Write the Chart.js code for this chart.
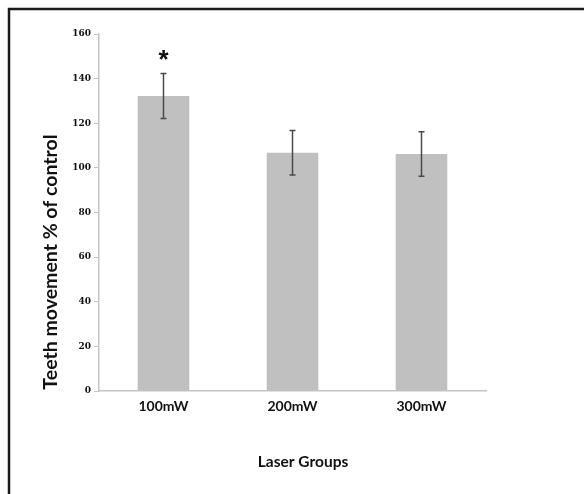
<!DOCTYPE html>
<html>
<head>
<meta charset="utf-8">
<script src="https://cdn.jsdelivr.net/npm/chart.js@4/dist/chart.umd.min.js"></script>
<style>
html,body{margin:0;padding:0;background:#fff;}
#wrap{width:584px;height:494px;position:relative;}
</style>
</head>
<body>
<div id="wrap"><canvas id="c" width="584" height="494"></canvas></div>
<script>
const categories = ['100mW', '200mW', '300mW'];
const meanValues = [132.2, 106.8, 106.2];
const errorValues = [10.1, 10.0, 10.0];
const significance = ['*', '', ''];
const yTitle = 'Teeth movement % of control';
const xTitle = 'Laser Groups';

const overlay = {
  id: 'overlay',
  beforeDraw(chart) {
    const ctx = chart.ctx;
    ctx.save();
    ctx.fillStyle = '#ffffff';
    ctx.fillRect(0, 0, chart.width, chart.height);
    ctx.strokeStyle = '#1a1a1a';
    ctx.lineWidth = 2.5;
    ctx.beginPath();
    ctx.moveTo(9, chart.height);
    ctx.lineTo(9, 9);
    ctx.lineTo(chart.width, 9);
    ctx.stroke();
    ctx.restore();
  },
  afterDatasetsDraw(chart) {
    const ctx = chart.ctx;
    const y = chart.scales.y;
    const meta = chart.getDatasetMeta(0);
    ctx.save();
    meta.data.forEach((bar, i) => {
      const x = bar.x;
      const hi = y.getPixelForValue(meanValues[i] + errorValues[i]);
      const lo = y.getPixelForValue(meanValues[i] - errorValues[i]);
      ctx.strokeStyle = '#4a4a4a';
      ctx.lineWidth = 1.5;
      ctx.beginPath();
      ctx.moveTo(x, hi); ctx.lineTo(x, lo);
      ctx.moveTo(x - 3, hi); ctx.lineTo(x + 3, hi);
      ctx.moveTo(x - 3, lo); ctx.lineTo(x + 3, lo);
      ctx.stroke();
      if (significance[i]) {
        ctx.fillStyle = '#111';
        ctx.font = 'bold 26px "Liberation Sans"';
        ctx.textAlign = 'center';
        ctx.textBaseline = 'middle';
        ctx.fillText(significance[i], x, hi - 13);
      }
    });
    // axis titles
    ctx.fillStyle = '#111';
    ctx.font = 'bold 19.5px Lato';
    ctx.textAlign = 'center';
    ctx.textBaseline = 'middle';
    ctx.save();
    ctx.translate(51, 262);
    ctx.rotate(-Math.PI / 2);
    ctx.fillText(yTitle, 0, 0);
    ctx.restore();
    ctx.font = 'bold 15.5px Lato';
    ctx.fillText(xTitle, 303, 462);
    ctx.restore();
  }
};

new Chart(document.getElementById('c'), {
  type: 'bar',
  data: {
    labels: categories,
    datasets: [{
      data: meanValues,
      backgroundColor: '#c0c0c0',
      borderWidth: 0,
      barPercentage: 0.4,
      categoryPercentage: 1.0
    }]
  },
  options: {
    responsive: false,
    animation: false,
    layout: { padding: { left: 0, right: 98, top: 34, bottom: 0 } },
    plugins: { legend: { display: false }, tooltip: { enabled: false } },
    scales: {
      x: {
        grid: { display: true, drawOnChartArea: false, drawTicks: false, color: 'rgba(0,0,0,0)' },
        border: { display: true, color: '#c4c4c4', width: 1.5 },
        ticks: { color: '#111', font: { family: 'Lato', weight: 'bold', size: 14 }, padding: 7 },
        afterFit(s) { s.height = 103; }
      },
      y: {
        min: 0, max: 160,
        ticks: { stepSize: 20, color: '#111', font: { family: '"DejaVu Serif"', weight: 'bold', size: 9 }, padding: 3 },
        grid: { drawOnChartArea: false, drawTicks: true, tickLength: 5, color: '#c4c4c4' },
        border: { display: true, color: '#c4c4c4', width: 1.5 },
        afterFit(s) { s.width = 99; }
      }
    }
  },
  plugins: [overlay]
});
</script>
</body>
</html>
